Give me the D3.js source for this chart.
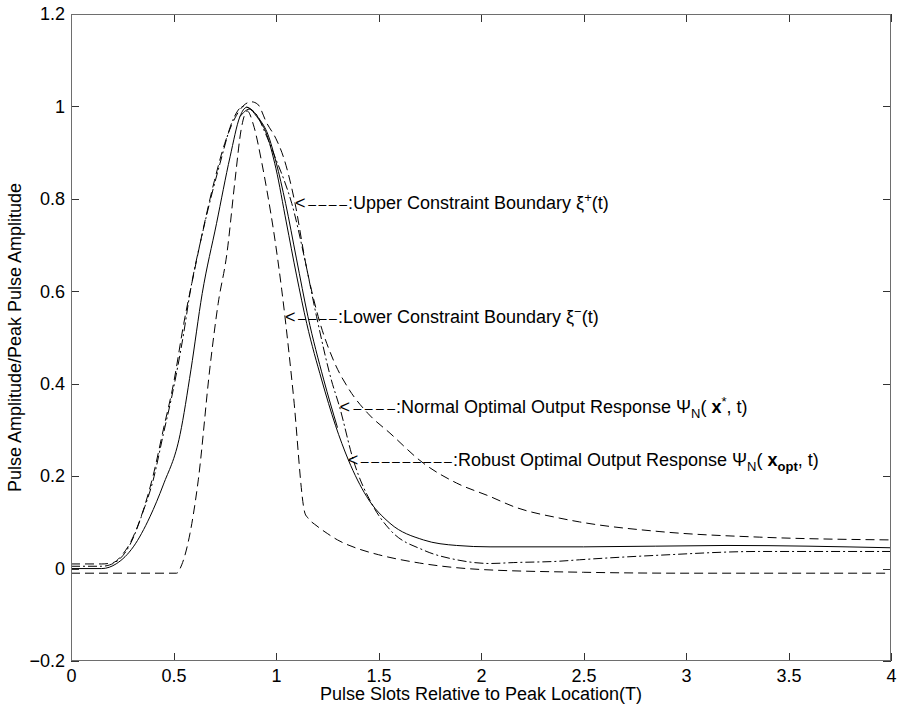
<!DOCTYPE html>
<html lang="en">
<head>
  <meta charset="utf-8">
  <title>Pulse response with constraint boundaries</title>
  <script src="https://cdnjs.cloudflare.com/ajax/libs/d3/7.8.5/d3.min.js"></script>
  <style type="text/css">
    body { margin: 0; background: #fff; }
    text { font-family: "Liberation Sans", Arial, Helvetica, sans-serif; fill: #000; }
    .curve { fill: none; stroke: #000; stroke-width: 1; }
    .dashed { stroke-dasharray: 9, 5; }
    .dashdot { stroke-dasharray: 9, 3, 2, 3; }
    .frame { fill: none; stroke: #6e6e6e; stroke-width: 1; shape-rendering: crispEdges; }
    .tickline { stroke: #333; stroke-width: 1; shape-rendering: crispEdges; }
  </style>
</head>
<body>
  <script>
    var w = 898;
    var h = 712;
    var margin = { top: 14, right: 7, bottom: 51, left: 71 };
    var fs = 18;

    // tick values
    var xTicks = [0, 0.5, 1, 1.5, 2, 2.5, 3, 3.5, 4];
    var yTicks = [-0.2, 0, 0.2, 0.4, 0.6, 0.8, 1, 1.2];

    // upper constraint boundary xi+(t)
    var upperT = [0, 0.15, 0.206, 0.25, 0.288, 0.353, 0.4, 0.45, 0.5, 0.55, 0.6, 0.65, 0.7, 0.75, 0.8, 0.85, 0.88, 0.91, 0.955, 1.0, 1.036, 1.093, 1.145, 1.206, 1.28, 1.353, 1.45, 1.556, 1.719, 1.881, 2.044, 2.16, 2.385, 2.48, 2.873, 3.36, 4];
    var upperV = [0.01, 0.01, 0.013, 0.03, 0.055, 0.127, 0.2, 0.3, 0.40, 0.53, 0.64, 0.745, 0.84, 0.92, 0.975, 1.005, 1.01, 1.005, 0.964, 0.93, 0.891, 0.79, 0.66, 0.545, 0.451, 0.39, 0.335, 0.293, 0.228, 0.185, 0.156, 0.134, 0.109, 0.101, 0.08, 0.068, 0.062];

    // lower constraint boundary xi-(t)
    var lowerT = [0, 0.515, 0.54, 0.58, 0.621, 0.678, 0.718, 0.76, 0.8, 0.83, 0.86, 0.89, 0.93, 0.955, 0.995, 1.028, 1.044, 1.084, 1.141, 1.155, 1.2, 1.25, 1.3, 1.4, 1.5, 1.7, 2.0, 2.5, 3, 4];
    var lowerV = [-0.01, -0.01, 0.008, 0.075, 0.192, 0.436, 0.574, 0.68, 0.84, 0.95, 0.99, 0.96, 0.88, 0.82, 0.711, 0.603, 0.544, 0.379, 0.12, 0.11, 0.092, 0.076, 0.062, 0.043, 0.03, 0.012, -0.002, -0.008, -0.01, -0.01];

    // normal optimal output response
    var normalT = [0, 0.15, 0.21, 0.288, 0.353, 0.4, 0.45, 0.5, 0.55, 0.58, 0.645, 0.727, 0.79, 0.84, 0.9, 0.95, 1.0, 1.04, 1.077, 1.14, 1.198, 1.27, 1.31, 1.377, 1.475, 1.556, 1.719, 1.881, 2.044, 2.16, 2.385, 2.48, 2.873, 3.36, 4];
    var normalV = [0.005, 0.005, 0.012, 0.052, 0.125, 0.19, 0.29, 0.39, 0.51, 0.595, 0.733, 0.877, 0.971, 1.0, 0.985, 0.94, 0.885, 0.84, 0.79, 0.67, 0.545, 0.408, 0.35, 0.235, 0.134, 0.084, 0.04, 0.019, 0.011, 0.013, 0.016, 0.019, 0.029, 0.037, 0.037];

    // robust optimal output response
    var robustT = [0, 0.15, 0.223, 0.304, 0.385, 0.45, 0.532, 0.585, 0.64, 0.71, 0.776, 0.824, 0.857, 0.906, 0.95, 1.0, 1.05, 1.1, 1.15, 1.223, 1.29, 1.353, 1.442, 1.556, 1.719, 1.881, 2.044, 2.5, 3.2, 4];
    var robustV = [0, 0, 0.011, 0.047, 0.112, 0.181, 0.29, 0.43, 0.595, 0.747, 0.891, 0.978, 0.998, 0.978, 0.945, 0.865, 0.75, 0.635, 0.53, 0.408, 0.31, 0.235, 0.156, 0.098, 0.062, 0.05, 0.047, 0.047, 0.05, 0.045];

    // second solid trace, visible just right of the peak
    var solid2T = [0.824, 0.87, 0.92, 0.96, 1.0, 1.047, 1.1, 1.156, 1.232, 1.3];
    var solid2V = [0.978, 0.994, 0.972, 0.94, 0.88, 0.79, 0.67, 0.545, 0.41, 0.305];

    var series = [
      { t: upperT, v: upperV, cls: 'dashed' },
      { t: lowerT, v: lowerV, cls: 'dashed' },
      { t: normalT, v: normalV, cls: 'dashdot' },
      { t: robustT, v: robustV, cls: '' },
      { t: solid2T, v: solid2V, cls: '' }
    ];

    // annotations: arrow tip (x, y) and where the ':' starts, in data units
    var notes = [
      { x: 1.093, y: 0.79, x2: 1.351, dashes: 4, label: 'upper' },
      { x: 1.044, y: 0.544, x2: 1.302, dashes: 4, label: 'lower' },
      { x: 1.31, y: 0.35, x2: 1.585, dashes: 4, label: 'normal' },
      { x: 1.35, y: 0.235, x2: 1.863, dashes: 9, label: 'robust' }
    ];

    var xScale = d3.scaleLinear().domain([0, 4]).range([margin.left, w - margin.right]);
    var yScale = d3.scaleLinear().domain([-0.2, 1.2]).range([h - margin.bottom, margin.top]);

    var svg = d3.select('body')
      .append('svg')
      .attr('width', w)
      .attr('height', h);

    var line = d3.line()
      .x(d => xScale(d[0]))
      .y(d => yScale(d[1]))
      .curve(d3.curveMonotoneX);

    svg.selectAll('path.curve')
      .data(series)
      .enter()
      .append('path')
      .attr('class', d => 'curve ' + d.cls)
      .attr('d', d => line(d.t.map((t, i) => [t, d.v[i]])));

    // axes, matlab style: box, ticks pointing inward on all four sides
    var fmt = d3.format('~g');
    var tl = 8;

    svg.append('g')
      .attr('transform', 'translate(0,' + (h - margin.bottom) + ')')
      .call(d3.axisBottom(xScale).tickValues(xTicks).tickSizeInner(-tl).tickSizeOuter(0).tickPadding(8).tickFormat(fmt))
      .call(g => g.select('.domain').remove());
    svg.append('g')
      .attr('transform', 'translate(0,' + margin.top + ')')
      .call(d3.axisTop(xScale).tickValues(xTicks).tickSizeInner(-tl).tickSizeOuter(0).tickFormat(''))
      .call(g => g.select('.domain').remove());
    svg.append('g')
      .attr('transform', 'translate(' + margin.left + ',0)')
      .call(d3.axisLeft(yScale).tickValues(yTicks).tickSizeInner(-tl).tickSizeOuter(0).tickPadding(6).tickFormat(fmt))
      .call(g => g.select('.domain').remove());
    svg.append('g')
      .attr('transform', 'translate(' + (w - margin.right) + ',0)')
      .call(d3.axisRight(yScale).tickValues(yTicks).tickSizeInner(-tl).tickSizeOuter(0).tickFormat(''))
      .call(g => g.select('.domain').remove());

    svg.selectAll('.tick line').attr('class', 'tickline');
    svg.selectAll('.tick text')
      .style('font-size', fs + 'px')
      .style('font-family', '"Liberation Sans", Arial, sans-serif')
      .attr('fill', '#000');

    svg.append('rect')
      .attr('class', 'frame')
      .attr('x', margin.left + 0.5)
      .attr('y', margin.top + 0.5)
      .attr('width', w - margin.left - margin.right - 1)
      .attr('height', h - margin.top - margin.bottom - 1);

    // axis labels
    svg.append('text')
      .attr('x', (margin.left + w - margin.right) / 2)
      .attr('y', h - 12)
      .attr('text-anchor', 'middle')
      .style('font-size', fs + 'px')
      .text('Pulse Slots Relative to Peak Location(T)');

    svg.append('text')
      .attr('transform', 'translate(21,' + (margin.top + h - margin.bottom) / 2 + ') rotate(-90)')
      .attr('text-anchor', 'middle')
      .style('font-size', fs + 'px')
      .text('Pulse Amplitude/Peak Pulse Amplitude');

    // annotations
    var ann = svg.append('g').style('font-size', fs + 'px');
    notes.forEach(function (n) {
      var px = xScale(n.x), py = yScale(n.y), px2 = xScale(n.x2);
      var a = ann.append('text')
        .attr('x', px)
        .attr('y', py)
        .attr('dy', '6')
        .attr('textLength', px2 - px - 1)
        .attr('lengthAdjust', 'spacing');
      a.append('tspan').text('<');
      a.append('tspan').style('font-size', '14px').text('\u2013'.repeat(n.dashes));

      var t = ann.append('text')
        .attr('x', px2)
        .attr('y', py)
        .attr('dy', '6');

      if (n.label === 'upper' || n.label === 'lower') {
        t.append('tspan').text(n.label === 'upper' ? ':Upper Constraint Boundary \u03BE' : ':Lower Constraint Boundary \u03BE');
        t.append('tspan').attr('dy', '-7').style('font-size', '13px').text(n.label === 'upper' ? '+' : '\u2212');
        t.append('tspan').attr('dy', '7').text('(t)');
      } else if (n.label === 'normal') {
        t.append('tspan').text(':Normal Optimal Output Response \u03A8');
        t.append('tspan').attr('dy', '5').style('font-size', '13px').text('N');
        t.append('tspan').attr('dy', '-5').text('( ');
        t.append('tspan').style('font-weight', 'bold').text('x');
        t.append('tspan').attr('dy', '-7').style('font-size', '13px').text('*');
        t.append('tspan').attr('dy', '7').text(', t)');
      } else {
        t.append('tspan').text(':Robust Optimal Output Response \u03A8');
        t.append('tspan').attr('dy', '5').style('font-size', '13px').text('N');
        t.append('tspan').attr('dy', '-5').text('( ');
        t.append('tspan').style('font-weight', 'bold').text('x');
        t.append('tspan').attr('dy', '5').style('font-size', '13px').style('font-weight', 'bold').text('opt');
        t.append('tspan').attr('dy', '-5').text(', t)');
      }
    });
  </script>
</body>
</html>
